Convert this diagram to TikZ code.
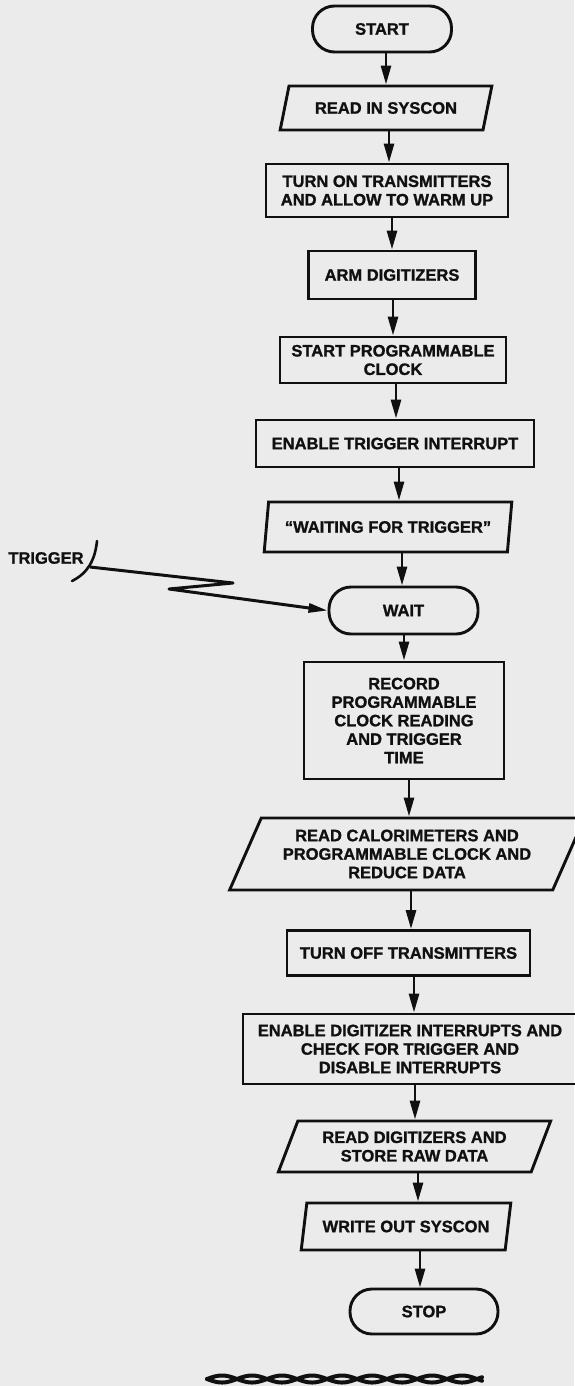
\documentclass[tikz,border=0pt]{standalone}
\usepackage{fontspec}
\setmainfont{Liberation Sans}[BoldFeatures={FakeBold=1.2}]
\usetikzlibrary{shapes.geometric,arrows.meta}
\definecolor{paper}{RGB}{235,235,235}
\definecolor{ink}{RGB}{16,16,16}

% vertical flow arrow from one block to the next, at a given x
\newcommand\flowto[3]{\draw[flow] (#1.south -| #3,0) -- (#2.north -| #3,0);}

\begin{document}
\begin{tikzpicture}[x=1pt,y=-1pt,
  every node/.style={font=\fontsize{16.5}{18.5}\selectfont\bfseries, text=ink, align=center, inner sep=0pt},
  outline/.style={draw=ink, line width=2.9pt},
  terminal/.style={outline, rectangle, rounded corners=22pt, minimum height=46pt},
  process/.style={outline, rectangle},
  io/.style={outline, trapezium, trapezium stretches=true},
  flow/.style={draw=ink, line width=2.8pt, -{Triangle[length=19pt,width=10pt]}},
  signal/.style={draw=ink, line width=3pt, line join=round, -{Triangle[length=19pt,width=9pt]}},
]
\useasboundingbox (0,0) rectangle (574,1386);
\fill[paper] (0,0) rectangle (574,1386);

\node[terminal, minimum width=139pt] (start) at (382,29) {START};
\node[io, trapezium left angle=61, trapezium right angle=119, minimum width=212pt, minimum height=44pt] (readin) at (386,108) {READ IN SYSCON};
\node[process, minimum width=242pt, minimum height=53pt] (xon) at (387,190.5) {TURN ON TRANSMITTERS\\AND ALLOW TO WARM UP};
\node[process, minimum width=167pt, minimum height=48pt] (arm) at (392,275) {ARM DIGITIZERS};
\node[process, minimum width=226pt, minimum height=46pt] (clock) at (393,360) {START PROGRAMMABLE\\CLOCK};
\node[process, minimum width=278pt, minimum height=47pt] (trigint) at (395,443.5) {ENABLE TRIGGER INTERRUPT};
\node[io, trapezium left angle=72, trapezium right angle=108, minimum width=248pt, minimum height=50pt] (waitmsg) at (388,527) {“WAITING FOR TRIGGER”};
\node[terminal, minimum width=149pt, minimum height=47pt] (wait) at (403.5,610.5) {WAIT};
\node[process, minimum width=200pt, minimum height=117pt] (record) at (404,720.5) {RECORD\\PROGRAMMABLE\\CLOCK READING\\AND TRIGGER\\TIME};
\node[io, trapezium left angle=61, trapezium right angle=119, minimum width=356pt, minimum height=72pt] (calor) at (407,854) {READ CALORIMETERS AND\\PROGRAMMABLE CLOCK AND\\REDUCE DATA};
\node[process, minimum width=243pt, minimum height=45pt] (xoff) at (408.5,953) {TURN OFF TRANSMITTERS};
\node[process, minimum width=334pt, minimum height=70pt] (digint) at (410,1049) {ENABLE DIGITIZER INTERRUPTS AND\\CHECK FOR TRIGGER AND\\DISABLE INTERRUPTS};
\node[io, trapezium left angle=63, trapezium right angle=117, minimum width=273pt, minimum height=51pt] (readdig) at (414.5,1146.5) {READ DIGITIZERS AND\\STORE RAW DATA};
\node[io, trapezium left angle=68, trapezium right angle=112, minimum width=210pt, minimum height=47pt] (writeout) at (406,1226.5) {WRITE OUT SYSCON};
\node[terminal, minimum width=148pt, minimum height=45pt] (stop) at (424,1311.5) {STOP};

% main flow
\flowto{start}{readin}{386}
\flowto{readin}{xon}{389}
\flowto{xon}{arm}{392}
\flowto{arm}{clock}{393}
\flowto{clock}{trigint}{396}
\flowto{trigint}{waitmsg}{399}
\flowto{waitmsg}{wait}{402}
\flowto{wait}{record}{404}
\flowto{record}{calor}{409}
\flowto{calor}{xoff}{411}
\flowto{xoff}{digint}{414}
\flowto{digint}{readdig}{415}
\flowto{readdig}{writeout}{418}
\flowto{writeout}{stop}{420}

% external trigger signal
\node (trig) at (46,558) {TRIGGER};
\draw[ink, line width=2.6pt, line cap=round] (72,581) .. controls (88,573) and (95,560) .. (97,541);
\coordinate (tstart) at (90,567);
\coordinate (zigA) at (233,583);
\coordinate (zigB) at (169,589);
\draw[signal] (tstart) -- (zigA) -- (zigB) -- (wait.west);

% twisted rule closing the chart
\foreach \s in {1,-1}
  \draw[ink, line width=4pt, line cap=round] plot[domain=207:482, samples=160, smooth] (\x, {1379+\s*3.5*sin(6*(\x-207))});
\end{tikzpicture}
\end{document}
